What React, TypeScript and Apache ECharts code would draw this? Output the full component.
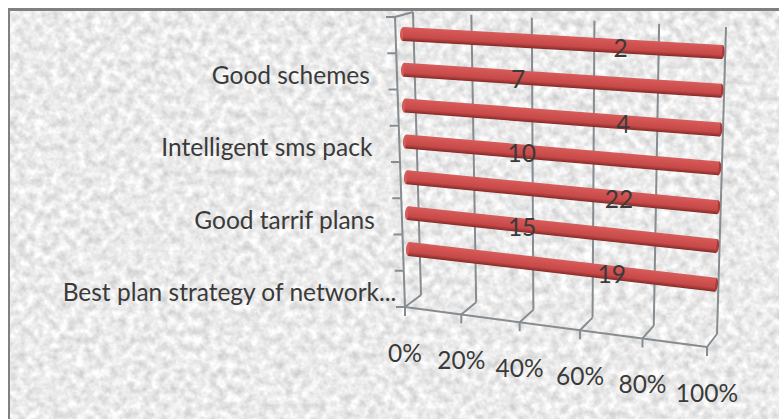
import React, { useEffect, useRef } from "react";
import * as echarts from "echarts";

// Category axis, bottom to top. Only every other name is printed on the axis.
const categories = [
  "Best plan strategy of network...",
  "",
  "Good tarrif plans",
  "",
  "Intelligent sms pack",
  "",
  "Good schemes",
  "",
];
// Responses per category; the first category has no value.
const responses: (number | null)[] = [null, 19, 15, 22, 10, 4, 7, 2];
// Where each value label sits along its bar, in axis percent.
const labelAxisPct: (number | null)[] = [null, 68, 39, 70, 39, 71, 38, 70];
const percentTicks = [0, 20, 40, 60, 80, 100];

type Pt = [number, number];
type Quad = { bl: Pt; br: Pt; tl: Pt; tr: Pt };

// Layout of the tilted 3D box the flat cartesian grid is projected onto.
const backWall: Quad = { bl: [421, 295], br: [717, 334], tl: [413, 12], tr: [726, 27] };
const barPlane: Quad = { bl: [410.5, 302.7], br: [713.8, 343], tl: [402.5, 16], tr: [722.6, 32.6] };
const floorFront: [Pt, Pt] = [[405, 307], [707, 347]];
const sideAxis: [Pt, Pt] = [[405, 307], [395, 17]];

const FONT = '24.5px Lato, "Noto Sans", sans-serif';
const TEXT = "#3a3a3a";
const LINE = "#868c90";

const lerp = (a: Pt, b: Pt, t: number): Pt => [a[0] + (b[0] - a[0]) * t, a[1] + (b[1] - a[1]) * t];
// Foreshortening along the percent axis.
const foreshorten = (u: number) => u + 0.085 * u * (u - 1);
const onQuad = (q: Quad, u: number, v: number): Pt =>
  lerp(lerp(q.bl, q.br, foreshorten(u)), lerp(q.tl, q.tr, foreshorten(u)), v);

// Turn a pixel from the hidden grid into unit coordinates inside that grid.
const toUnit = (cs: any, p: number[]): [number, number] => [
  (p[0] - cs.x) / cs.width,
  (cs.y + cs.height - p[1]) / cs.height,
];

const line = (a: Pt, b: Pt, width = 2) => ({
  type: "line",
  shape: { x1: a[0], y1: a[1], x2: b[0], y2: b[1] },
  style: { stroke: LINE, lineWidth: width },
});

const label = (x: number, y: number, text: string, align: string) => ({
  type: "text",
  style: {
    x,
    y,
    text,
    font: FONT,
    fill: TEXT,
    align,
    textAlign: align,
    verticalAlign: "middle",
    textVerticalAlign: "middle",
  },
});

// Gridline on the back wall, floor edge, tick and percent label for one axis value.
const renderPercentTick = (params: any, api: any) => {
  const value = api.value(0);
  const [u] = toUnit(params.coordSys, api.coord([value, 0]));
  const front = lerp(floorFront[0], floorFront[1], foreshorten(u));
  const base = onQuad(backWall, u, 0);
  const top = onQuad(backWall, u, 1);
  const children: any[] = [
    line(base, top),
    line(front, base),
    line([front[0], front[1] - 1], [front[0], front[1] + 9]),
    label(front[0], front[1] + 45, `${value}%`, "center"),
  ];
  if (value === percentTicks[0]) children.unshift(line(floorFront[0], floorFront[1]));
  return { type: "group", children };
};

// Side axis: one tick per band edge, plus the printed category names.
const renderCategoryTick = (params: any, api: any) => {
  const index = api.value(1);
  const cs = params.coordSys;
  const p = api.coord([0, index]);
  const half = api.size([0, 1])[1] / 2;
  const vLow = (cs.y + cs.height - (p[1] + half)) / cs.height;
  const vMid = (cs.y + cs.height - p[1]) / cs.height;
  const vHigh = (cs.y + cs.height - (p[1] - half)) / cs.height;
  const low = lerp(sideAxis[0], sideAxis[1], vLow);
  const high = lerp(sideAxis[0], sideAxis[1], vHigh);
  const mid = lerp(sideAxis[0], sideAxis[1], vMid);
  const name = categories[index];
  const children: any[] = [
    line(low, high),
    line([low[0] - 9, low[1]], low),
  ];
  if (index === categories.length - 1) {
    children.push(line([high[0] - 9, high[1]], high));
    children.push(line(high, onQuad(backWall, 0, 1)));
  }
  if (name) {
    const right = name.endsWith("...") ? mid[0] - 8 : mid[0] - 27;
    children.push(label(right, mid[1] + 3, name, "right"));
  }
  return { type: "group", children };
};

// A single 100% stacked tube: its length is the value's share of the category total.
const renderBar = (params: any, api: any) => {
  const cs = params.coordSys;
  const [u, v] = toUnit(cs, api.coord([api.value(0), api.value(1)]));
  const a = onQuad(barPlane, 0, v);
  const b = onQuad(barPlane, u, v);
  const dx = b[0] - a[0];
  const dy = b[1] - a[1];
  const len = Math.hypot(dx, dy);
  const n: Pt = [-dy / len, dx / len];
  const r = 7;
  const mid = lerp(a, b, 0.5);
  const tube = new echarts.graphic.LinearGradient(
    mid[0] - n[0] * r,
    mid[1] - n[1] * r,
    mid[0] + n[0] * r,
    mid[1] + n[1] * r,
    [
      { offset: 0, color: "#d4605f" },
      { offset: 0.2, color: "#d45554" },
      { offset: 0.7, color: "#c64a49" },
      { offset: 0.92, color: "#98322f" },
      { offset: 1, color: "#7d2a28" },
    ],
    true
  );
  const angle = Math.atan2(dy, dx);
  const cap = (c: Pt, rx: number, fill: any) => ({
    type: "ellipse",
    x: c[0],
    y: c[1],
    rotation: -angle,
    shape: { cx: 0, cy: 0, rx, ry: r },
    style: { fill },
  });
  return {
    type: "group",
    children: [
      cap(a, 3, "#d45c5a"),
      cap(b, 2.5, "#a83a39"),
      {
        type: "polygon",
        shape: {
          points: [
            [a[0] - n[0] * r, a[1] - n[1] * r],
            [b[0] - n[0] * r, b[1] - n[1] * r],
            [b[0] + n[0] * r, b[1] + n[1] * r],
            [a[0] + n[0] * r, a[1] + n[1] * r],
          ],
        },
        style: { fill: tube },
      },
    ],
  };
};

// Value printed on the centre line of its tube.
const renderValueLabel = (params: any, api: any) => {
  const [u, v] = toUnit(params.coordSys, api.coord([api.value(0), api.value(1)]));
  const p = onQuad(barPlane, u, v);
  return label(p[0], p[1] + 1, String(api.value(2)), "center");
};

const grain =
  "data:image/svg+xml," +
  encodeURIComponent(
    `<svg xmlns="http://www.w3.org/2000/svg" width="779" height="419">
      <filter id="g" x="0" y="0" width="100%" height="100%" color-interpolation-filters="sRGB">
        <feTurbulence type="fractalNoise" baseFrequency="0.12" numOctaves="3" seed="7"/>
        <feColorMatrix type="matrix" values="0.3 0 0 0 0.77  0.3 0 0 0 0.77  0.3 0 0 0 0.77  0 0 0 0 1"/>
      </filter>
      <rect width="779" height="419" filter="url(#g)"/>
    </svg>`
  );

export default function App() {
  const ref = useRef<HTMLDivElement>(null);

  useEffect(() => {
    const chart = echarts.init(ref.current!, undefined, { renderer: "svg" });
    const bars = responses.flatMap((value, index) =>
      value === null ? [] : [[(value / value) * 100, index]]
    );
    const valueLabels = responses.flatMap((value, index) =>
      value === null ? [] : [[labelAxisPct[index], index, value]]
    );
    chart.setOption({
      animation: false,
      tooltip: { show: false },
      grid: { left: 0, right: 0, top: 0, bottom: 0 },
      xAxis: { type: "value", min: 0, max: 100, interval: 20, show: false },
      yAxis: { type: "category", data: categories.map((_, i) => String(i)), show: false },
      series: [
        {
          type: "custom",
          clip: false,
          z: 1,
          silent: true,
          data: percentTicks.map((t) => [t, 0]),
          renderItem: renderPercentTick,
        },
        {
          type: "custom",
          clip: false,
          z: 1,
          silent: true,
          data: categories.map((_, i) => [0, i]),
          renderItem: renderCategoryTick,
        },
        { type: "custom", clip: false, z: 2, silent: true, data: bars, renderItem: renderBar },
        { type: "custom", clip: false, z: 3, silent: true, data: valueLabels, renderItem: renderValueLabel },
      ],
    });
    return () => chart.dispose();
  }, []);

  return (
    <div style={{ position: "absolute", left: 0, top: 0, width: 779, height: 419, overflow: "hidden", background: "#fff" }}>
      <div
        style={{
          position: "absolute",
          left: 8,
          top: 8,
          right: 0,
          bottom: 0,
          borderLeft: "2px solid #808080",
          borderTop: "3px solid #808080",
          backgroundImage: `url("${grain}")`,
        }}
      />
      <div ref={ref} style={{ position: "absolute", left: 0, top: 0, width: 779, height: 419 }} />
    </div>
  );
}
